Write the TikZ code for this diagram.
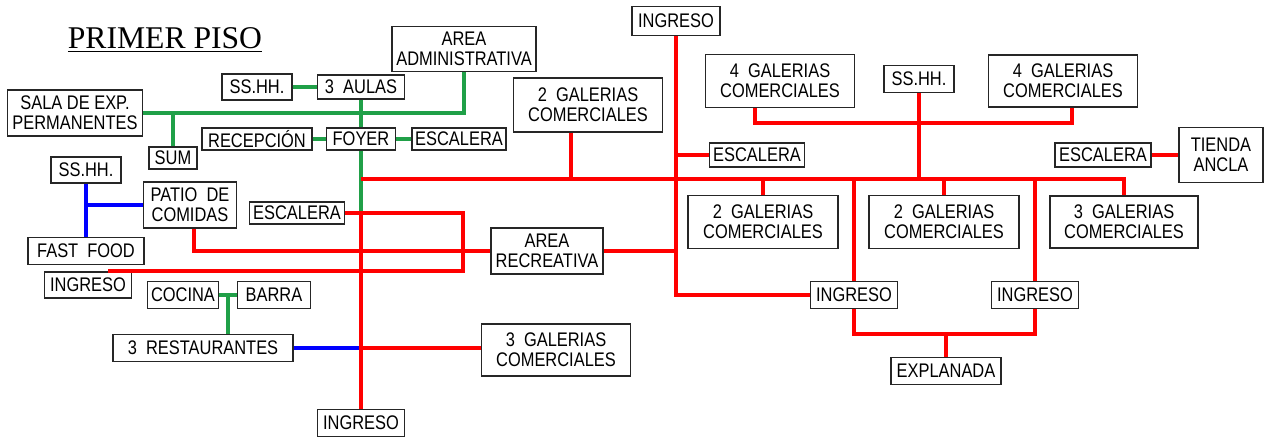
\documentclass[tikz,border=0pt]{standalone}
\usepackage{fontspec}
\setmainfont{Liberation Serif}
\setsansfont{Liberation Sans}[FakeStretch=0.835]
\usetikzlibrary{positioning,calc}
\definecolor{cadgreen}{RGB}{32,160,72}
\tikzset{
  box/.style={draw=black!85,line width=0.7pt,inner xsep=0.5pt,inner ysep=1pt,align=center,
    font=\sffamily\fontsize{11.2}{11.5}\selectfont,minimum height=26*0.02cm},
  bw/.style={minimum width=#1*0.02cm},
  bh/.style={minimum height=#1*0.02cm},
  grn/.style={cadgreen,line width=2.3pt},
  blu/.style={blue,line width=2.3pt},
  rd/.style={red,line width=2.3pt}
}

\begin{document}
\begin{tikzpicture}[x=0.02cm,y=-0.02cm]
\useasboundingbox (0,0) rectangle (1271,439);
\node[font=\fontsize{18}{20}\selectfont] (title) at (165,40) {\underline{PRIMER PISO}};
% left wing
\node[box,bw=135,bh=46] (sala) at (75,113) {SALA DE EXP.\\PERMANENTES};
\node[box,bw=70] (sshhA) at (257,87) {SS.HH.};
\node[box,bw=87,bh=24] (aulas) at (361,87) {3\ \ AULAS};
\node[box,bw=144,bh=45] (admin) at (464,49) {AREA\\ADMINISTRATIVA};
\node[box,bw=110,bh=22] (recep) at (257,139) {RECEPCIÓN};
\node[box,bw=69,bh=22] (foyer) at (361,139) {FOYER};
\node[box,bw=94,bh=22] (escA) at (459,139) {ESCALERA};
\node[box,bw=48,bh=22] (sum) at (173,158) {SUM};
\node[box,bw=70] (sshhB) at (86,170) {SS.HH.};
\node[box,bw=93,bh=46] (patio) at (190,205) {PATIO\ \ DE\\COMIDAS};
\node[box,bw=116,bh=27] (fast) at (86,251) {FAST\ \ FOOD};
\node[box,bw=87] (ingA) at (88,285) {INGRESO};
\node[box,bw=95,bh=22] (escB) at (297,213) {ESCALERA};
\node[box,bw=71,bh=27] (cocina) at (183,295) {COCINA};
\node[box,bw=73,bh=27] (barra) at (274,295) {BARRA};
\node[box,bw=180,bh=27] (rest) at (203,348) {3\ \ RESTAURANTES};
\node[box,bw=87,bh=27] (ingB) at (361,423) {INGRESO};
% centre
\node[box,bw=112,bh=46] (recre) at (547,251) {AREA\\RECREATIVA};
\node[box,bw=149,bh=52] (galA) at (556,350) {3\ \ GALERIAS\\COMERCIALES};
\node[box,bw=149,bh=54] (galB) at (588,105) {2\ \ GALERIAS\\COMERCIALES};
\node[box,bw=88,bh=29] (ingC) at (676,21) {INGRESO};
\node[box,bw=95,bh=24] (escC) at (757,155) {ESCALERA};
% right wing
\node[box,bw=149,bh=53] (galC) at (780,81) {4\ \ GALERIAS\\COMERCIALES};
\node[box,bw=70,bh=27] (sshhC) at (919,79) {SS.HH.};
\node[box,bw=149,bh=52] (galD) at (1063,81) {4\ \ GALERIAS\\COMERCIALES};
\node[box,bw=96,bh=24] (escD) at (1103,155) {ESCALERA};
\node[box,bw=84,bh=55] (tienda) at (1221,155) {TIENDA\\ANCLA};
\node[box,bw=150,bh=53] (galE) at (763,222) {2\ \ GALERIAS\\COMERCIALES};
\node[box,bw=150,bh=53] (galF) at (944,222) {2\ \ GALERIAS\\COMERCIALES};
\node[box,bw=148,bh=52] (galG) at (1124,222) {3\ \ GALERIAS\\COMERCIALES};
\node[box,bw=87,bh=27] (ingD) at (854,295) {INGRESO};
\node[box,bw=87,bh=27] (ingE) at (1035,295) {INGRESO};
\node[box,bw=110,bh=27] (expl) at (946,371) {EXPLANADA};

\coordinate (hub) at (foyer.south |- escB.east);
\coordinate (m0) at (361,179);
\coordinate (cb) at ($(cocina.east)!.5!(barra.west)$);
\coordinate (gb) at ($(galB.south)+(-17,0)$);

% green links
\draw[grn] (sshhA) -- (aulas);
\draw[grn] (sala.east) -| (admin.south);
\draw[grn] (sum.north) -- (sum.north |- sala.east);
\draw[grn] (aulas) -- (foyer);
\draw[grn] (recep) -- (foyer);
\draw[grn] (foyer) -- (escA);
\draw[grn] (foyer.south) -- (hub);
\draw[grn] (cocina) -- (barra);
\draw[grn] (cb) -- (cb |- rest.north);

% blue links
\draw[blu] (sshhB) -- (fast);
\draw[blu] (patio.west) -- (patio.west -| sshhB);
\draw[blu] (rest.east) -- (rest.east -| ingB.north);

% red links
\draw[rd] (hub) -- (ingB.north);
\draw[rd] (rest.east -| ingB.north) -- (rest.east -| galA.west);
\draw[rd] (escB.east) -- ++(118,0) |- ($(ingA.north)+(20,0)$);
\draw[rd] ($(patio.south)+(4,0)$) |- (recre.west);
\draw[rd] (m0) -- (galG.north |- m0) -- (galG.north);
\draw[rd] (gb) -- (gb |- m0);
\draw[rd] (ingC.south) |- (ingD.west);
\draw[rd] (escC.west) -- (escC.west -| ingC.south);
\draw[rd] (recre.east) -- (recre.east -| ingC.south);
\draw[rd] ($(galC.south)+(-25,0)$) |- ($(galD.south)+(9,15)$) -- ($(galD.south)+(9,0)$);
\draw[rd] (sshhC.south) -- (sshhC.south |- m0);
\foreach \n in {galE,ingD,galF,ingE}
  \draw[rd] (\n.north) -- (\n.north |- m0);
\draw[rd] (ingD.south) -- ++(0,25) -| (ingE.south);
\draw[rd] (expl.north) -- ++(0,-25);
\draw[rd] (escD) -- (tienda);
\end{tikzpicture}
\end{document}
